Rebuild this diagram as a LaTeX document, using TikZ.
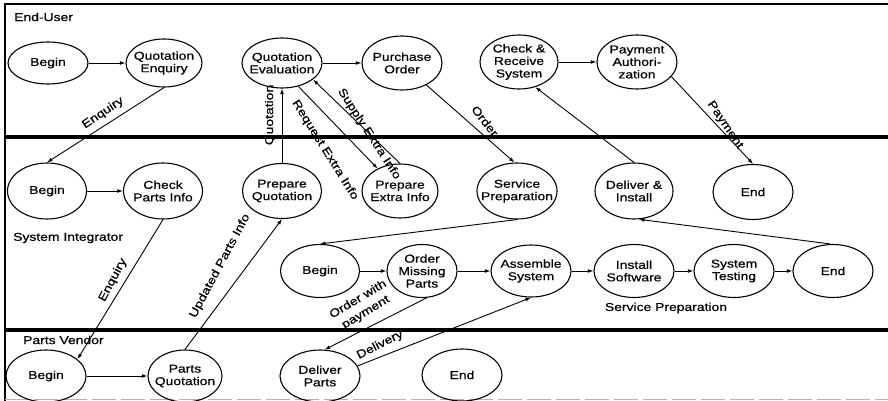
\documentclass[tikz,border=0pt]{standalone}
\usepackage{fontspec}
\setmainfont{Liberation Sans}[FakeStretch=1.22,FakeBold=0.6]
\usetikzlibrary{shapes.geometric,arrows.meta}
\begin{document}
\begin{tikzpicture}[x=1pt,y=-1pt,
  st/.style={ellipse,draw,line width=1.1pt,inner xsep=-14pt,inner ysep=-10pt,align=center,
    font=\fontsize{11.4}{12.5}\selectfont,minimum width=80pt,minimum height=54pt},
  lbl/.style={font=\fontsize{11.4}{12.5}\selectfont,inner sep=0pt,align=center},
  arr/.style={-{Latex[length=5.5pt,width=3.8pt]},line width=0.9pt}]
\useasboundingbox (0,0) rectangle (888,401);
% frame and lanes
\draw[line width=1.5pt] (5,401) -- (5,4) -- (888,4);
\draw[line width=4pt] (5,137) -- (888,137);
\draw[line width=4pt] (5,330) -- (888,330);
\draw[gray!60,line width=0.8pt,dash pattern=on 24pt off 5pt] (5,399.5) -- (888,399.5);
% lane labels
\node[lbl,anchor=west] (leu) at (14,17) {End-User};
\node[lbl,anchor=west] (lsi) at (13,238) {System Integrator};
\node[lbl] (lsp) at (666,308) {Service Preparation};
\node[lbl,anchor=west] (lpv) at (23,340) {Parts Vendor};
% End-User row
\node[st,minimum height=42pt] (beu) at (48,63) {Begin};
\node[st,minimum width=76pt,minimum height=48pt] (qen) at (164,63) {Quotation\\Enquiry};
\node[st,minimum height=50pt] (qev) at (282,63) {Quotation\\Evaluation};
\node[st] (po) at (402,63) {Purchase\\Order};
\node[st,minimum width=78pt] (crs) at (519,62) {Check \&\\Receive\\System};
\node[st] (pa) at (637,62) {Payment\\Authori-\\zation};
% System Integrator row
\node[st,minimum width=79pt,minimum height=56pt] (bsi) at (47,191) {Begin};
\node[st,minimum width=79pt,minimum height=56pt] (cpi) at (163,191) {Check\\Parts Info};
\node[st,minimum width=79pt,minimum height=55pt] (pqu) at (282,191) {Prepare\\Quotation};
\node[st,minimum width=76pt] (pei) at (400,191) {Prepare\\Extra Info};
\node[st,minimum height=56pt] (sp) at (517,191) {Service\\Preparation};
\node[st,minimum width=78pt,minimum height=56pt] (di) at (634,191) {Deliver \&\\Install};
\node[st,minimum height=55pt] (esi) at (753,192) {End};
% Service Preparation sub-flow
\node[st,minimum width=79pt,minimum height=53pt] (sb) at (320,271) {Begin};
\node[st,minimum width=70pt,minimum height=53pt] (omp) at (422,271) {Order\\Missing\\Parts};
\node[st,minimum height=52pt] (asy) at (531,271) {Assemble\\System};
\node[st,minimum height=53pt] (isw) at (634,271) {Install\\Software};
\node[st,minimum height=53pt] (stt) at (734,271) {System\\Testing};
\node[st,minimum height=53pt] (es) at (833,271) {End};
% Parts Vendor row
\node[st,minimum height=52pt] (bpv) at (46,376) {Begin};
\node[st,minimum width=74pt,minimum height=52pt] (pq) at (185,376) {Parts\\Quotation};
\node[st,minimum height=52pt] (dp) at (320,376) {Deliver\\Parts};
\node[st,minimum height=52pt] (epv) at (462,375) {End};
% connectors
\draw[arr] (beu.east) -- (qen.west);
\draw[arr] (qen.south) -- (bsi.north);
\draw[arr] (bsi.east) -- (cpi.west);
\draw[arr] (cpi.south) -- (bpv.28);
\draw[arr] (bpv.east) -- (pq.west);
\draw[arr] (pq.north) -- (pqu.south);
\draw[arr] (pqu.north) -- (qev.south);
\draw[arr] (qev.-55) -- (pei.135);
\draw[arr] (pei.north) -- (qev.-28);
\draw[arr] (qev.east) -- (po.west);
\draw[arr] (po.-42) -- (sp.95);
\draw[arr] (sp.south) -- (sb.north);
\draw[arr] (di.north) -- (crs.-57);
\draw[arr] (crs.east) -- (pa.west);
\draw[arr] (pa.-23) -- (esi.north);
\draw[arr] (es.95) -- (di.-80);
\draw[arr] (sb.east) -- (omp.west);
\draw[arr] (omp.east) -- (asy.west);
\draw[arr] (asy.east) -- (isw.west);
\draw[arr] (isw.east) -- (stt.west);
\draw[arr] (stt.east) -- (es.west);
\draw[arr] (omp.-80) -- (dp.80);
\draw[arr] (dp.15) -- (asy.south);
% connector labels
\node[lbl,rotate=34] (l1) at (103,113) {Enquiry};
\node[lbl,rotate=62] (l2) at (113,280) {Enquiry};
\node[lbl,rotate=62] (l3) at (220,266) {Updated Parts Info};
\node[lbl,rotate=90] (l4) at (270,115) {Quotation};
\node[lbl,rotate=-58] (l5) at (325,150) {Request Extra Info};
\node[lbl,rotate=-57] (l6) at (369,134) {Supply Extra Info};
\node[lbl,rotate=-52] (l7) at (485,121) {Order};
\node[lbl,rotate=-56] (l8) at (725,125) {Payment};
\node[lbl,rotate=31,font=\fontsize{11.4}{15}\selectfont] (l9) at (362,306) {Order with\\payment};
\node[lbl,rotate=27] (l10) at (380,345) {Delivery};
\end{tikzpicture}
\end{document}
